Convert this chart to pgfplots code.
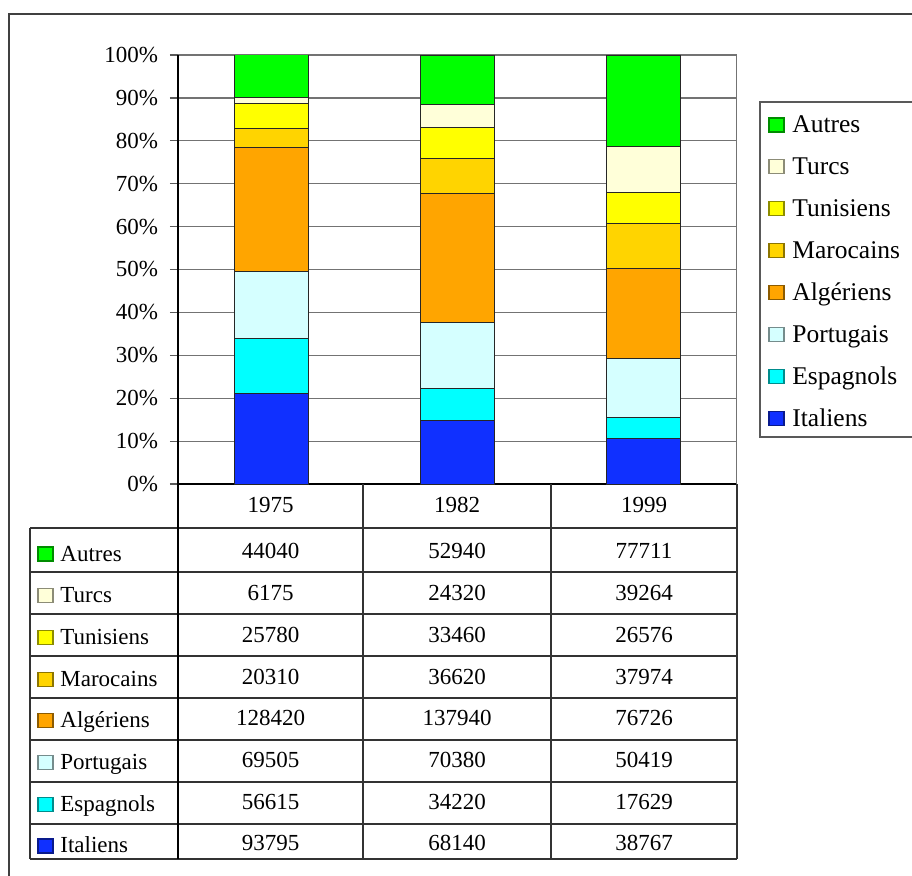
\documentclass[border=0pt]{standalone}
\usepackage{fontspec}
\setmainfont{Liberation Serif}
\usepackage{pgfplots}
\usepackage{pgfplotstable}
\pgfplotsset{compat=1.18}

\definecolor{cAutres}{HTML}{00FF00}
\definecolor{cTurcs}{HTML}{FFFFD9}
\definecolor{cTunisiens}{HTML}{FFFF00}
\definecolor{cMarocains}{HTML}{FFD400}
\definecolor{cAlgeriens}{HTML}{FFA500}
\definecolor{cPortugais}{HTML}{D5FFFF}
\definecolor{cEspagnols}{HTML}{00FFFF}
\definecolor{cItaliens}{HTML}{1030FF}

% raw counts per year, Total = sum of the row
\pgfplotstableread{
x year Italiens Espagnols Portugais Algeriens Marocains Tunisiens Turcs Autres Total
1 1975 93795 56615 69505 128420 20310 25780 6175 44040 444640
2 1982 68140 34220 70380 137940 36620 33460 24320 52940 458020
3 1999 38767 17629 50419 76726 37974 26576 39264 77711 365066
}\immig

\newcommand\lbl{\fontsize{11.5}{13}\selectfont}
\newcommand\leg{\fontsize{12.75}{14}\selectfont}

\begin{document}
\begin{tikzpicture}[font=\lbl]
\useasboundingbox (0,0) rectangle (456pt,437.5pt);

\begin{axis}[
  at={(89pt,195.5pt)}, anchor=south west,
  scale only axis, width=279.5pt, height=214.5pt,
  ybar stacked, bar width=37pt,
  xmin=0.5, xmax=3.5, ymin=0, ymax=100,
  xtick=\empty,
  ytick={0,10,...,100},
  yticklabels={0\%,10\%,20\%,30\%,40\%,50\%,60\%,70\%,80\%,90\%,100\%},
  axis x line*=bottom, axis y line*=left,
  axis line style={black, line width=0.6pt},
  ymajorgrids, grid style={black!55, line width=0.6pt},
  tick align=outside, major tick length=4pt,
  ytick style={black!65, line width=0.6pt},
  yticklabel style={font=\lbl, xshift=-2.5pt},
  every axis plot/.append style={draw=black!85, line width=0.5pt},
]
\addplot[fill=cItaliens]  table[x=x, y expr=\thisrow{Italiens}/\thisrow{Total}*100] {\immig};
\addplot[fill=cEspagnols] table[x=x, y expr=\thisrow{Espagnols}/\thisrow{Total}*100] {\immig};
\addplot[fill=cPortugais] table[x=x, y expr=\thisrow{Portugais}/\thisrow{Total}*100] {\immig};
\addplot[fill=cAlgeriens] table[x=x, y expr=\thisrow{Algeriens}/\thisrow{Total}*100] {\immig};
\addplot[fill=cMarocains] table[x=x, y expr=\thisrow{Marocains}/\thisrow{Total}*100] {\immig};
\addplot[fill=cTunisiens] table[x=x, y expr=\thisrow{Tunisiens}/\thisrow{Total}*100] {\immig};
\addplot[fill=cTurcs]     table[x=x, y expr=\thisrow{Turcs}/\thisrow{Total}*100] {\immig};
\addplot[fill=cAutres]    table[x=x, y expr=\thisrow{Autres}/\thisrow{Total}*100] {\immig};
\draw[black!55, line width=0.6pt] (rel axis cs:1,0) -- (rel axis cs:1,1);
\end{axis}

% everything below in image pixels, y measured from the top
\begin{scope}[x=0.5pt, y=-0.5pt, yshift=437.5pt]
\draw[black!75, line width=1pt] (9,14) rectangle (940,895);

% data table grid
\begin{scope}[black!80, line width=0.6pt]
\foreach \yy in {528,572,614,656,698,740,782,824,859} \draw (30,\yy) -- (737,\yy);
\draw (30,528) -- (30,859);
\draw[black] (178,484) -- (178,859);
\draw (363,484) -- (363,859);
\draw (551,484) -- (551,859);
\draw (737,484) -- (737,859);
\end{scope}

\foreach \i/\cx in {0/270.5,1/457,2/644} {
  \pgfplotstablegetelem{\i}{year}\of\immig
  \node[anchor=base, inner sep=0pt] at (\cx,512) {\pgfplotsretval};
}

% legend box
\draw[black!65, line width=0.6pt] (760,102) rectangle (940,437);

\foreach \c/\name/\k in {Autres/Autres/0, Turcs/Turcs/1, Tunisiens/Tunisiens/2,
    Marocains/Marocains/3, Algeriens/Algériens/4, Portugais/Portugais/5,
    Espagnols/Espagnols/6, Italiens/Italiens/7} {
  \pgfmathsetmacro\bl{561+41.7*\k}
  \draw[fill=c\c, draw=c\c!55!black, line width=0.6pt] (38,\bl-14) rectangle (53,\bl);
  \node[anchor=base west, inner sep=0pt] at (60,\bl) {\name};
  \foreach \i/\cx in {0/270.5,1/457,2/644} {
    \pgfplotstablegetelem{\i}{\c}\of\immig
    \node[anchor=base, inner sep=0pt] at (\cx,\bl-2) {\pgfplotsretval};
  }
  \pgfmathsetmacro\lb{133+41.9*\k}
  \draw[fill=c\c, draw=c\c!55!black, line width=0.6pt] (769,\lb-15) rectangle (784,\lb-1);
  \node[anchor=base west, inner sep=0pt, font=\leg] at (792,\lb) {\name};
}
\end{scope}
\end{tikzpicture}
\end{document}
